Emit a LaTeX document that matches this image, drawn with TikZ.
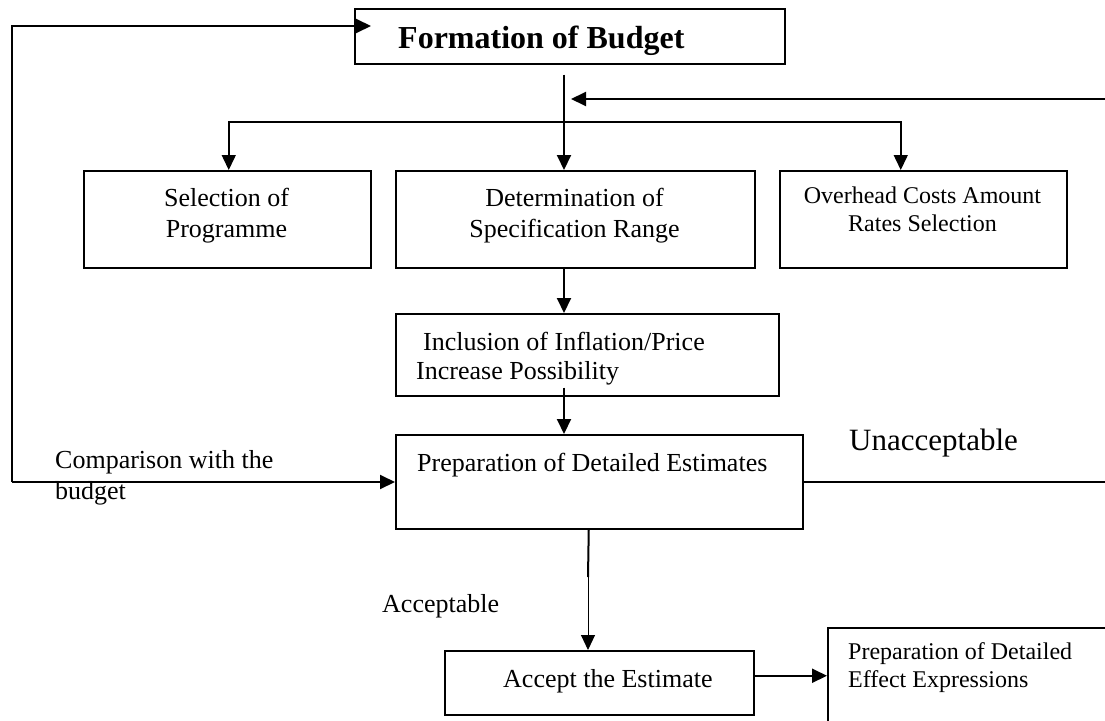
\documentclass[tikz,border=0pt]{standalone}
\usepackage{fontspec}
\setmainfont{Liberation Serif}
\usetikzlibrary{arrows.meta}
\begin{document}
\begin{tikzpicture}[x=1pt,y=-1pt,
  box/.style={draw, line width=1.5pt, inner sep=0pt, anchor=north west},
  txt/.style={inner sep=0pt, font=\fontsize{26}{31}\selectfont},
  smalltxt/.style={inner sep=0pt, font=\fontsize{24}{28}\selectfont},
  ln/.style={line width=2pt},
  arr/.style={line width=2pt, -{Triangle[length=15pt,width=14pt]}},
  arrB/.style={line width=1.5pt, -{Triangle[length=15pt,width=14pt]}},
  arrT/.style={line width=1pt, -{Triangle[length=15pt,width=14pt]}}]
\useasboundingbox (0,0) rectangle (1105,720);
\clip (0,0) rectangle (1105,720);

% boxes
\node[box, minimum width=430pt, minimum height=55pt] (form) at (354,8) {};
\node[box, minimum width=287pt, minimum height=97pt] (sel) at (83,170) {};
\node[box, minimum width=359pt, minimum height=97pt] (det) at (395,170) {};
\node[box, minimum width=287pt, minimum height=97pt] (ovh) at (779,170) {};
\node[box, minimum width=383pt, minimum height=82pt] (inc) at (395,313) {};
\node[box, minimum width=407pt, minimum height=94pt] (prep) at (395,434) {};
\node[box, minimum width=309pt, minimum height=64pt] (acc) at (444,650) {};
\node[box, minimum width=320pt, minimum height=130pt] (eff) at (827,627) {};

% texts (multi-line nodes: base anchor = last line)
\node[inner sep=0pt, anchor=base west, font=\fontsize{32}{36}\selectfont\bfseries] (formT) at (398,48) {Formation of Budget};
\node[txt, align=center, anchor=base] (selT) at (226.5,237) {Selection of\\Programme};
\node[txt, align=center, anchor=base] (detT) at (574.5,237) {Determination of\\Specification Range};
\node[smalltxt, align=center, anchor=base] (ovhT) at (922.5,231) {Overhead Costs Amount\\Rates Selection};
\node[txt, align=left, anchor=base west, font=\fontsize{26}{29}\selectfont] (incT) at (416,379) {\hspace*{7pt}Inclusion of Inflation/Price\\Increase Possibility};
\node[txt, anchor=base west] (prepT) at (417,471) {Preparation of Detailed Estimates};
\node[txt, align=left, anchor=base west] (cmpT) at (55,499) {Comparison with the\\budget};
\node[inner sep=0pt, anchor=base west, font=\fontsize{31}{35}\selectfont] (unT) at (849,450) {Unacceptable};
\node[txt, anchor=base west] (accL) at (382,612) {Acceptable};
\node[txt, anchor=base west] (accT) at (503,687) {Accept the Estimate};
\node[smalltxt, align=left, anchor=base west] (effT) at (848,687) {Preparation of Detailed\\Effect Expressions};

% coordinates
\coordinate (lt) at (12,26);
\coordinate (lb) at (12,482);
\coordinate (fd) at ([shift={(210,10)}]form.south west);
\coordinate (rin) at (1105,99);
\coordinate (br) at (564,122);
\coordinate (ur) at (1105,482);
\coordinate (as) at ([xshift=-10.5pt]prep.south);
\coordinate (am) at (588,577);
\coordinate (ae) at ([yshift=7pt]acc.east);

% connectors
\draw[arr] (lb) -- (lt) -- ([shift={(17,18)}]form.north west);
\draw[arr] (lb) -- (prep.west |- lb);
\draw[arr] (fd) -- (fd |- det.north);
\draw[arr] (rin) -- ([xshift=7pt]fd |- rin);
\draw[arrB] (br) -| ([xshift=1.5pt]sel.north);
\draw[arrB] (br) -| ([xshift=-22.5pt]ovh.north);
\draw[arr] (fd |- det.south) -- (fd |- inc.north);
\draw[arr] ([yshift=9pt]fd |- inc.south) -- (fd |- prep.north);
\draw[ln] (prep.east |- lb) -- (ur);
\draw[ln] (as) -- (am);
\draw[arrT] (am) -- (am |- acc.north);
\draw[arr] (ae) -- (ae -| eff.west);
\end{tikzpicture}
\end{document}
